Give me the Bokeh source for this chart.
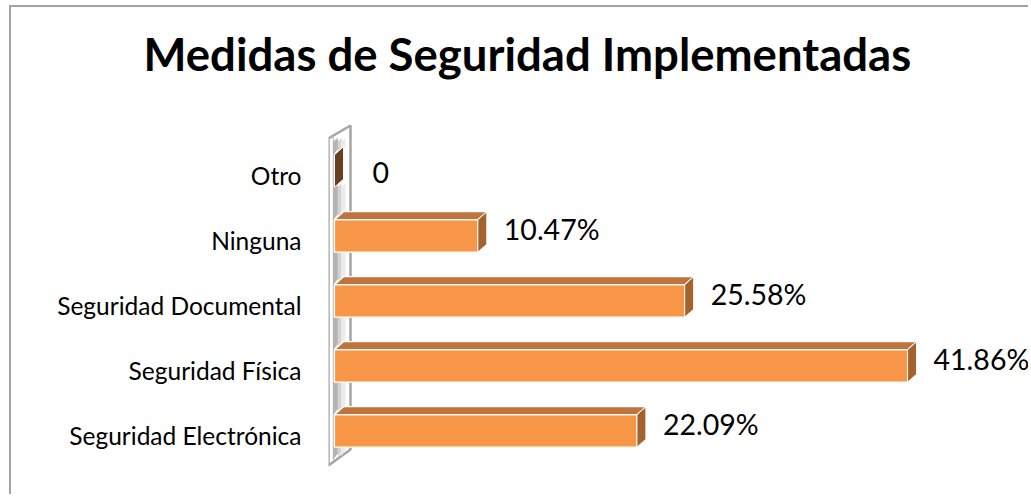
from bokeh.plotting import figure
from bokeh.models import FixedTicker, Title
from bokeh.embed import file_html
from bokeh.resources import INLINE
from bokeh.core.properties import value

categories = ["Seguridad Electrónica", "Seguridad Física", "Seguridad Documental", "Ninguna", "Otro"]
values = [22.09, 41.86, 25.58, 10.47, 0.0]
value_labels = ["22.09%", "41.86%", "25.58%", "10.47%", "0"]
title_text = "Medidas de Seguridad Implementadas"

W, H = 1019, 489
LEFT = 317
TOPB = 73
PX_X = 13.69
PX_Y = 65.0
LABEL0 = 428.0          # canvas y of first category
x0 = -6 / PX_X
x1 = x0 + (W - LEFT) / PX_X
y1 = (LABEL0 - TOPB) / PX_Y
y0 = (LABEL0 - H) / PX_Y

DX = 9 / PX_X
DY = 8 / PX_Y
HALF = 0.25
SHIFT = 0.07

FRONT = "#F79646"
TOP = "#C0733A"
SIDE = "#A5622C"
ZERO_SIDE = "#6B3E1D"
WALL_LINE = "#A6A6A6"

p = figure(width=W, height=H, x_range=(x0, x1), y_range=(y0, y1),
           output_backend="svg", toolbar_location=None,
           min_border_left=LEFT, min_border_right=0, min_border_top=TOPB, min_border_bottom=0,
           x_axis_location=None, outline_line_color=None,
           background_fill_color="white", border_fill_color="white")
p.margin = (5, 0, 0, 9)
p.styles = {"border-top": "2px solid #a3a3a3", "border-left": "2px solid #a3a3a3"}
p.xgrid.visible = False
p.ygrid.visible = False

# wall (3D axis wall)
wl, wi, wr = -6 / PX_X, -1 / PX_X, 16 / PX_X
wb_l, wt_l = -0.462, 4.569
wb_r, wt_r = -0.215, 4.769
p.patch([wl, wl, wr, wr], [wb_l, wt_l, wt_r, wb_r], fill_color="white",
        line_color=WALL_LINE, line_width=2.5)
p.line([wi, wi], [wb_l + 0.08, wt_l + 0.02], line_color="#c4c4c4", line_width=1.5)

# wall shading (stepped gradient) in the gaps between bars
yc = [i + SHIFT for i in range(len(categories))]
gaps = [(yc[0] - HALF, wb_l + 0.1)]
for i in range(1, len(categories)):
    gaps.append((yc[i] - HALF, yc[i - 1] + HALF))
gaps.append((wt_l - 0.05, yc[-1] + HALF))
strips = [(wi, 0.25, "#9e9e9e", 0.75), (0.25, 0.5, "#c2c2c2", 0.7), (0.5, 0.8, "#e2e2e2", 0.7)]
for xa, xb, col, al in strips:
    sx, sy = [], []
    for gt, gb in gaps:
        sx.append([xa, xb, xb, xa])
        sy.append([gt, gt + 0.06, gb + 0.06 + (xb - wi) * 0.08, gb + (xa - wi) * 0.08])
    p.patches(sx, sy, fill_color=col, fill_alpha=al, line_color=None)

# bars
nonzero = [i for i, v in enumerate(values) if v > 0]
p.quad(left=[0] * len(nonzero), right=[values[i] for i in nonzero],
       bottom=[yc[i] - HALF for i in nonzero], top=[yc[i] + HALF for i in nonzero],
       fill_color=FRONT, line_color="white", line_width=1.2)
top_xs = [[0, values[i], values[i] + DX, DX] for i in nonzero]
top_ys = [[yc[i] + HALF, yc[i] + HALF, yc[i] + HALF + DY, yc[i] + HALF + DY] for i in nonzero]
p.patches(top_xs, top_ys, fill_color=TOP, line_color="white", line_width=1.2)
side_xs = [[values[i], values[i], values[i] + DX, values[i] + DX] for i in range(len(values))]
side_ys = [[yc[i] - HALF, yc[i] + HALF, yc[i] + HALF + DY, yc[i] - HALF + DY] for i in range(len(values))]
side_cols = [SIDE if values[i] > 0 else ZERO_SIDE for i in range(len(values))]
p.patches(side_xs, side_ys, fill_color=side_cols, line_color="white", line_width=1.0)

# value labels (Excel places the zero label a little differently)
lab_y = [c + (0.10 if v > 0 else -0.03) for c, v in zip(yc, values)]
lab_dx = [17 if v > 0 else 29 for v in values]
p.text(x=[v + DX for v in values], y=lab_y, text=value_labels,
       x_offset=lab_dx, text_align="left", text_baseline="middle",
       text_font=value("Lato"), text_font_size="28.5px", text_color="black")

# category axis
ax = p.yaxis[0]
ax.ticker = FixedTicker(ticks=list(range(len(categories))))
ax.major_label_overrides = {i: c for i, c in enumerate(categories)}
ax.major_label_text_font = "Lato"
ax.major_label_text_font_size = "24.5px"
ax.major_label_text_color = "black"
ax.major_label_standoff = 27
ax.major_tick_out = 0
ax.major_tick_in = 0
ax.axis_line_color = None
ax.major_tick_line_color = None
ax.minor_tick_line_color = None

# title
p.title = Title(text=title_text, align="left", offset=-185, standoff=0,
                text_font="Lato", text_font_style="bold", text_font_size="45.5px",
                text_color="black")

open("out.html", "w").write(file_html(p, INLINE))
